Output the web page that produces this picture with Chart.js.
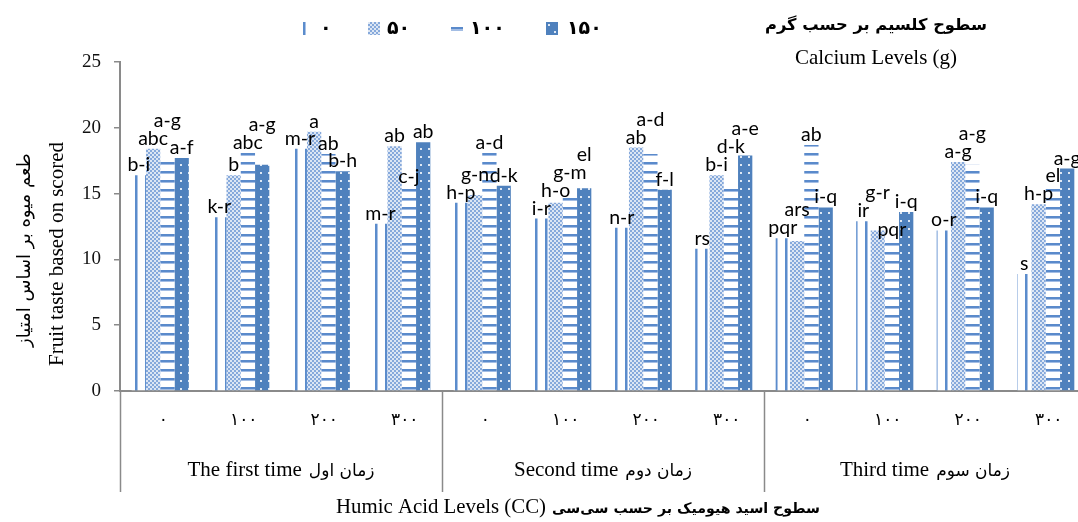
<!DOCTYPE html>
<html><head><meta charset="utf-8">
<script src="https://cdn.jsdelivr.net/npm/chart.js@4.4.1/dist/chart.umd.min.js"></script>
<style>html,body{margin:0;padding:0;background:#fff;overflow:hidden;width:1078px;height:522px}canvas{display:block}</style>
</head><body><canvas id="c" width="1092" height="522"></canvas>
<script>
// ---- data ----
const humicLevels = ['۰','۱۰۰','۲۰۰','۳۰۰','۰','۱۰۰','۲۰۰','۳۰۰','۰','۱۰۰','۲۰۰','۳۰۰'];
const timeGroupsEn = ['The first time','Second time','Third time'];
const timeGroupsFa = ['زمان اول','زمان دوم','زمان سوم'];
const calciumLevels = ['۰','۵۰','۱۰۰','۱۵۰'];
const ca0   = [16.4, 13.2, 18.4, 12.7, 14.3, 13.1, 12.4, 10.8, 11.6, 12.9, 12.2, 8.9];
const ca50  = [18.4, 16.4, 19.7, 18.6, 14.9, 14.3, 18.5, 16.4, 11.4, 12.2, 17.4, 14.2];
const ca100 = [17.8, 18.1, 18.0, 15.5, 18.1, 14.8, 18.0, 15.5, 18.7, 11.5, 17.2, 15.4];
const ca150 = [17.7, 17.2, 16.7, 18.9, 15.6, 15.4, 15.3, 17.9, 13.95, 13.6, 13.95, 16.9];
const letters0   = ['b-i','k-r','m-r','m-r','h-p','i-r','n-r','rs','pqr','ir','o-r','s'];
const letters50  = ['abc','b','a','ab','g-n','h-o','ab','b-i','ars','g-r','a-g','h-p'];
const letters100 = ['a-g','abc','ab','c-j','a-d','g-m','a-d','d-k','ab','pqr','a-g','el'];
const letters150 = ['a-f','a-g','b-h','ab','d-k','el','f-l','a-e','i-q','i-q','i-q','a-g'];
const yMin = 0, yMax = 25, yStep = 5;
const yTitleEn = 'Fruit taste based on scored';
const yTitleFa = 'طعم میوه بر اساس امتیاز';
const xTitleEn = 'Humic Acid Levels (CC)';
const xTitleFa = 'سطوح اسید هیومیک بر حسب سی‌سی';
const legendTitleFa = 'سطوح کلسیم بر حسب گرم';
const legendTitleEn = 'Calcium Levels (g)';

const values = [ca0, ca50, ca100, ca150];
const letters = [letters0, letters50, letters100, letters150];

// ---- patterns ----
const canvas = document.getElementById('c');
const ctx = canvas.getContext('2d');
function pat(w, h, fn){ const c=document.createElement('canvas'); c.width=w; c.height=h; const x=c.getContext('2d'); fn(x); return ctx.createPattern(c,'repeat'); }
const BLUE = '#4f81bd';
const p0 = pat(10,1,x=>{x.fillStyle='#fff';x.fillRect(0,0,10,1);x.fillStyle='#5b8ccc';x.fillRect(5,0,2,1);x.fillStyle='#a9c2e6';x.fillRect(7,0,1,1);});
const p50 = pat(4,4,x=>{x.fillStyle='#dce6f4';x.fillRect(0,0,4,4);x.fillStyle='#86a9db';x.fillRect(0,0,2,2);x.fillRect(2,2,2,2);});
const p100 = pat(1,9,x=>{x.fillStyle='#fff';x.fillRect(0,0,1,9);x.fillStyle='#5a8acb';x.fillRect(0,0,1,2);x.fillStyle='#a3bde4';x.fillRect(0,2,1,1);});
const p150 = pat(8,8,x=>{x.fillStyle=BLUE;x.fillRect(0,0,8,8);x.fillStyle='#dfe8f4';x.fillRect(4,4,2,2);});
const patterns = [p0,p50,p100,p150];

function fitFont(text, weight, family, target){
  ctx.save(); ctx.font = weight+' 20px '+family; const w = ctx.measureText(text).width; ctx.restore();
  return weight+' '+(20*target/w).toFixed(2)+'px '+family;
}
const FA = '"DejaVu Sans"';
const SERIF = '"Liberation Serif", "DejaVu Serif", serif';

const decor = {
  id:'decor',
  afterDatasetsDraw(chart){
    const c = chart.ctx;
    c.save();
    c.font = '19.5px Lato, "DejaVu Sans", sans-serif';
    c.fillStyle = '#000'; c.textAlign='center'; c.textBaseline='alphabetic';
    for (let i=0;i<humicLevels.length;i++){
      const placed=[];
      for (let d=0; d<values.length; d++){
        const el = chart.getDatasetMeta(d).data[i];
        const t = letters[d][i];
        const w = c.measureText(t).width;
        let base = el.y - 4;
        let moved = true;
        while (moved){
          moved=false;
          for (const p of placed){
            const l=el.x-w/2, r=el.x+w/2, top=base-14, bot=base+3;
            if (l < p.r-3 && r > p.l+3 && top < p.bot && bot > p.top){ base = p.top - 4; moved=true; }
          }
        }
        placed.push({l:el.x-w/2, r:el.x+w/2, top:base-14, bot:base+3});
        c.fillText(t, el.x, base);
      }
    }
    c.restore();
  },
  afterDraw(chart){
    const c = chart.ctx, xs = chart.scales.x, area = chart.chartArea;
    c.save();
    // separators
    c.strokeStyle='#8a8a8a'; c.lineWidth=1.5;
    const bounds=[area.left];
    for (let g=1; g<3; g++) bounds.push((xs.getPixelForValue(g*4-1)+xs.getPixelForValue(g*4))/2);
    bounds.push(area.right);
    for (const bx of bounds){ c.beginPath(); c.moveTo(Math.round(bx)+0.5, area.bottom); c.lineTo(Math.round(bx)+0.5, 492); c.stroke(); }
    // category labels
    c.fillStyle='#000'; c.textAlign='center'; c.textBaseline='middle';
    c.font = '17px '+FA;
    if ('letterSpacing' in c) c.letterSpacing='5px';
    humicLevels.forEach((t,i)=>{ c.fillText(t, xs.getPixelForValue(i)+3, 421); });
    if ('letterSpacing' in c) c.letterSpacing='0px';
    // group labels
    for (let g=0; g<3; g++){
      const cx=(bounds[g]+bounds[g+1])/2;
      c.font='21px '+SERIF; const we=c.measureText(timeGroupsEn[g]).width;
      c.font='17px '+FA; const wf=c.measureText(timeGroupsFa[g]).width;
      const tot=we+7+wf, x0=cx-tot/2;
      c.textAlign='left';
      c.font='21px '+SERIF; c.fillText(timeGroupsEn[g], x0, 470);
      c.font='17px '+FA; c.fillText(timeGroupsFa[g], x0+we+7, 472);
    }
    // x title
    c.textAlign='left';
    c.font = fitFont(xTitleEn,'normal',SERIF,210); c.fillText(xTitleEn, 336, 508);
    c.font = fitFont(xTitleFa,'bold',FA,268); c.fillText(xTitleFa, 552, 509);
    // y titles
    c.textAlign='center';
    c.save(); c.translate(57,254); c.rotate(-Math.PI/2); c.font='21px '+SERIF; c.fillText(yTitleEn,0,0); c.restore();
    c.save(); c.translate(25,250); c.rotate(-Math.PI/2); c.font=fitFont(yTitleFa,'normal',FA,194); c.fillText(yTitleFa,0,0); c.restore();
    // legend title
    c.font = fitFont(legendTitleFa,'bold',FA,222); c.fillText(legendTitleFa, 876, 26);
    c.font = '21px '+SERIF; c.fillText(legendTitleEn, 876, 58);
    // legend
    const sw=[303,368,451,546], tx=[320,387,470,567];
    for (let d=0; d<4; d++){
      const x=sw[d];
      if (d===0){ c.fillStyle='#5b8ccc'; c.fillRect(x,22,2,13); c.fillStyle='#a9c2e6'; c.fillRect(x+2,22,1,13); }
      else if (d===1){ c.fillStyle=p50; c.fillRect(x,22,12,13); }
      else if (d===2){ c.fillStyle='#5a8acb'; c.fillRect(x,27,12,2); c.fillStyle='#a3bde4'; c.fillRect(x,29,12,2); }
      else { c.fillStyle=BLUE; c.fillRect(x,22,12,13); c.fillStyle='#dfe8f4'; c.fillRect(x+2,24,2,2); c.fillRect(x+8,31,2,2); }
      c.fillStyle='#000'; c.textAlign='left'; c.textBaseline='middle';
      c.font='bold 19px '+FA;
      if ('letterSpacing' in c) c.letterSpacing='4px';
      c.fillText(calciumLevels[d], tx[d], 29);
      if ('letterSpacing' in c) c.letterSpacing='0px';
    }
    c.restore();
  }
};

new Chart(canvas, {
  type:'bar',
  data:{
    labels: humicLevels,
    datasets: values.map((v,d)=>({label:calciumLevels[d], data:v, backgroundColor:patterns[d], borderWidth:0, categoryPercentage:0.71, barPercentage:1}))
  },
  options:{
    responsive:false, animation:false, devicePixelRatio:1,
    layout:{padding:{left:70, right:6, top:62, bottom:0}},
    plugins:{legend:{display:false}, tooltip:{enabled:false}, title:{display:false}},
    scales:{
      x:{ type:'category', ticks:{display:false}, grid:{display:false}, border:{display:true, color:'#8a8a8a', width:2},
          afterFit(s){ s.height = 131; } },
      y:{ min:yMin, max:yMax, ticks:{stepSize:yStep, padding:13, color:'#111', font:{family:'"Liberation Serif", serif', size:19}},
          grid:{display:true, drawOnChartArea:false, drawTicks:true, tickLength:6, color:'#8a8a8a', lineWidth:1.5},
          border:{display:true, color:'#8a8a8a', width:2},
          afterFit(s){ s.width = 50; } }
    }
  },
  plugins:[decor]
});
</script></body></html>
